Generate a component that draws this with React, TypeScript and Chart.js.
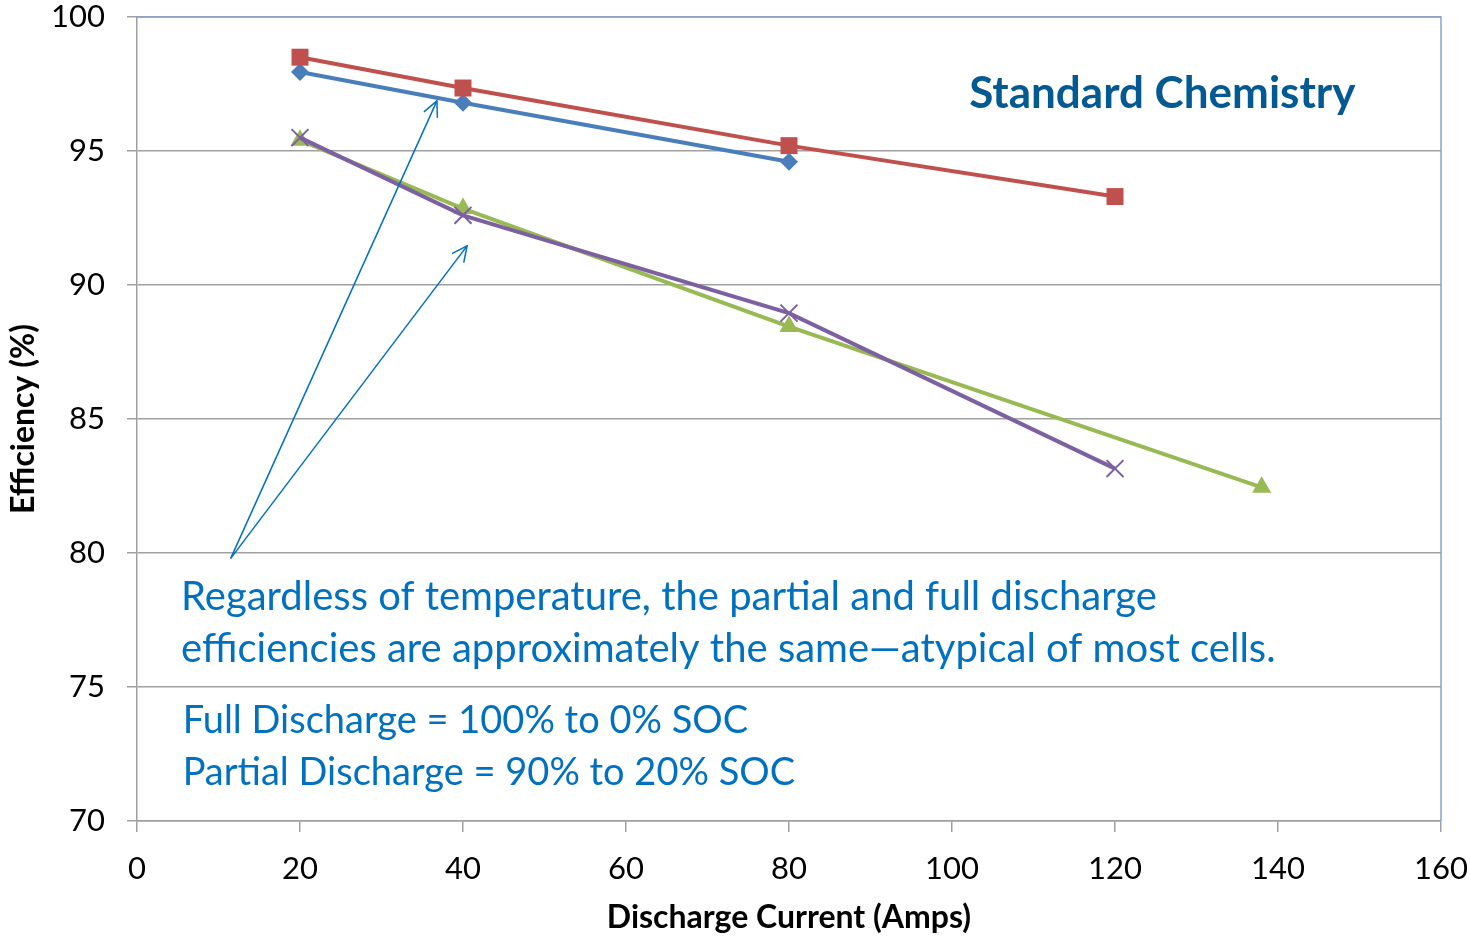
import React, { useEffect, useRef } from "react";
import { Chart, registerables } from "chart.js";

Chart.register(...registerables);

// ---- Data ----
const xTickValues = [0, 20, 40, 60, 80, 100, 120, 140, 160];
const yTickValues = [70, 75, 80, 85, 90, 95, 100];

const blueX = [20, 40, 80];
const blueY = [97.95, 96.8, 94.6];

const redX = [20, 40, 80, 120];
const redY = [98.5, 97.35, 95.2, 93.3];

const greenX = [20, 40, 80, 138];
const greenY = [95.4, 92.85, 88.45, 82.45];

const purpleX = [20, 40, 80, 120];
const purpleY = [95.5, 92.6, 88.95, 83.15];

const xTitle = "Discharge Current (Amps)";
const yTitle = "Efficiency (%)";
const chartLabel = "Standard Chemistry";
const noteLines = [
  "Regardless of temperature, the partial and full discharge",
  "efficiencies are approximately the same\u2014atypical of most cells.",
];
const defLines = ["Full Discharge = 100% to 0% SOC", "Partial Discharge = 90% to 20% SOC"];

// annotation anchors in data units
const arrowStart = { x: 11.5, y: 79.8 };
const arrowEnds = [
  { x: 36.8, y: 96.87 },
  { x: 40.5, y: 91.46 },
];
const labelAnchor = { x: 125.8, y: 96.6 };
const noteAnchor = { x: 5.4, y: 77.87, lineStep: 1.94 };
const defAnchor = { x: 5.6, y: 73.28, lineStep: 1.94 };

const pts = (xs: number[], ys: number[]) => xs.map((x, i) => ({ x, y: ys[i] }));

const FONT = "Lato, 'Open Sans', sans-serif";

const annotationPlugin = {
  id: "annotations",
  beforeDatasetsDraw(chart: any) {
    const { ctx, chartArea } = chart;
    ctx.save();
    ctx.strokeStyle = "#86a3d3";
    ctx.lineWidth = 1.5;
    ctx.beginPath();
    ctx.moveTo(chartArea.left, chartArea.top);
    ctx.lineTo(chartArea.right, chartArea.top);
    ctx.lineTo(chartArea.right, chartArea.bottom);
    ctx.stroke();
    ctx.restore();
  },
  afterDatasetsDraw(chart: any) {
    const { ctx } = chart;
    const xs = chart.scales.x;
    const ys = chart.scales.y;
    const px = (v: number) => xs.getPixelForValue(v);
    const py = (v: number) => ys.getPixelForValue(v);
    ctx.save();
    // arrows
    ctx.strokeStyle = "#0070c0";
    ctx.lineWidth = 1.5;
    const sx = px(arrowStart.x);
    const sy = py(arrowStart.y);
    arrowEnds.forEach((e) => {
      const ex = px(e.x);
      const ey = py(e.y);
      ctx.beginPath();
      ctx.moveTo(sx, sy);
      ctx.lineTo(ex, ey);
      ctx.stroke();
      const ang = Math.atan2(ey - sy, ex - sx);
      const len = 17;
      const spread = 0.45;
      ctx.beginPath();
      ctx.moveTo(ex - len * Math.cos(ang - spread), ey - len * Math.sin(ang - spread));
      ctx.lineTo(ex, ey);
      ctx.lineTo(ex - len * Math.cos(ang + spread), ey - len * Math.sin(ang + spread));
      ctx.stroke();
    });
    // title label
    ctx.fillStyle = "#035a93";
    ctx.font = `bold 44px ${FONT}`;
    ctx.textAlign = "center";
    ctx.textBaseline = "alphabetic";
    ctx.fillText(chartLabel, px(labelAnchor.x), py(labelAnchor.y));
    // notes
    ctx.fillStyle = "#0070c0";
    ctx.font = `40px ${FONT}`;
    ctx.textAlign = "left";
    noteLines.forEach((t, i) => {
      ctx.fillText(t, px(noteAnchor.x), py(noteAnchor.y - i * noteAnchor.lineStep));
    });
    ctx.font = `38px ${FONT}`;
    defLines.forEach((t, i) => {
      ctx.fillText(t, px(defAnchor.x), py(defAnchor.y - i * defAnchor.lineStep));
    });
    ctx.restore();
  },
};

export default function App() {
  const ref = useRef<HTMLCanvasElement | null>(null);
  useEffect(() => {
    if (!ref.current) return;
    const chart = new Chart(ref.current, {
      type: "line",
      data: {
        datasets: [
          {
            data: pts(redX, redY),
            borderColor: "#c0504d",
            backgroundColor: "#c0504d",
            borderWidth: 4,
            pointStyle: "rect",
            pointRadius: 12,
            pointBorderWidth: 0,
          },
          {
            data: pts(blueX, blueY),
            borderColor: "#4a7ebb",
            backgroundColor: "#4a7ebb",
            borderWidth: 4,
            pointStyle: "rectRot",
            pointRadius: 9,
            pointBorderWidth: 0,
          },
          {
            data: pts(purpleX, purpleY),
            borderColor: "#7d60a0",
            backgroundColor: "#7d60a0",
            borderWidth: 4,
            pointStyle: "crossRot",
            pointRadius: 12,
            pointBorderWidth: 2,
          },
          {
            data: pts(greenX, greenY),
            borderColor: "#98b954",
            backgroundColor: "#98b954",
            borderWidth: 4,
            pointStyle: "triangle",
            pointRadius: 11,
            pointBorderWidth: 0,
          },
        ],
      },
      options: {
        responsive: false,
        animation: false,
        layout: { padding: { top: 17, right: 29, left: 0, bottom: 0 } },
        plugins: { legend: { display: false }, tooltip: { enabled: false } },
        elements: { line: { tension: 0 } },
        scales: {
          x: {
            type: "linear",
            min: 0,
            max: 160,
            afterBuildTicks: (s: any) => {
              s.ticks = xTickValues.map((v) => ({ value: v }));
            },
            afterFit: (s: any) => {
              s.height = 116;
              s.paddingLeft = 0;
              s.paddingRight = 0;
            },
            ticks: { font: { size: 31, family: FONT }, color: "#000", padding: 18, maxRotation: 0 },
            grid: { drawOnChartArea: false, drawTicks: true, tickLength: 11, color: "#a0a0a0", lineWidth: 1.5 },
            border: { display: true, color: "#a0a0a0", width: 1.5 },
            title: {
              display: true,
              text: xTitle,
              color: "#000",
              font: { size: 32, weight: "bold", family: FONT },
              padding: { top: 0, bottom: 0 },
            },
          },
          y: {
            type: "linear",
            min: 70,
            max: 100,
            afterBuildTicks: (s: any) => {
              s.ticks = yTickValues.map((v) => ({ value: v }));
            },
            afterFit: (s: any) => {
              s.width = 137;
              s.paddingTop = 0;
              s.paddingBottom = 0;
            },
            ticks: { font: { size: 31, family: FONT, lineHeight: 1 }, color: "#000", padding: 22 },
            grid: { drawTicks: true, tickLength: 10, color: "#a0a0a0", lineWidth: 1.5 },
            border: { display: true, color: "#a0a0a0", width: 1.5 },
            title: {
              display: true,
              text: yTitle,
              color: "#000",
              font: { size: 32, weight: "bold", family: FONT },
              padding: { top: 4, bottom: 0 },
            },
          },
        },
      },
      plugins: [annotationPlugin],
    });
    return () => chart.destroy();
  }, []);
  return (
    <div style={{ position: "fixed", left: 0, top: 0, width: 1470, height: 937, background: "#fff" }}>
      <canvas ref={ref} width={1470} height={937} style={{ display: "block" }} />
    </div>
  );
}
